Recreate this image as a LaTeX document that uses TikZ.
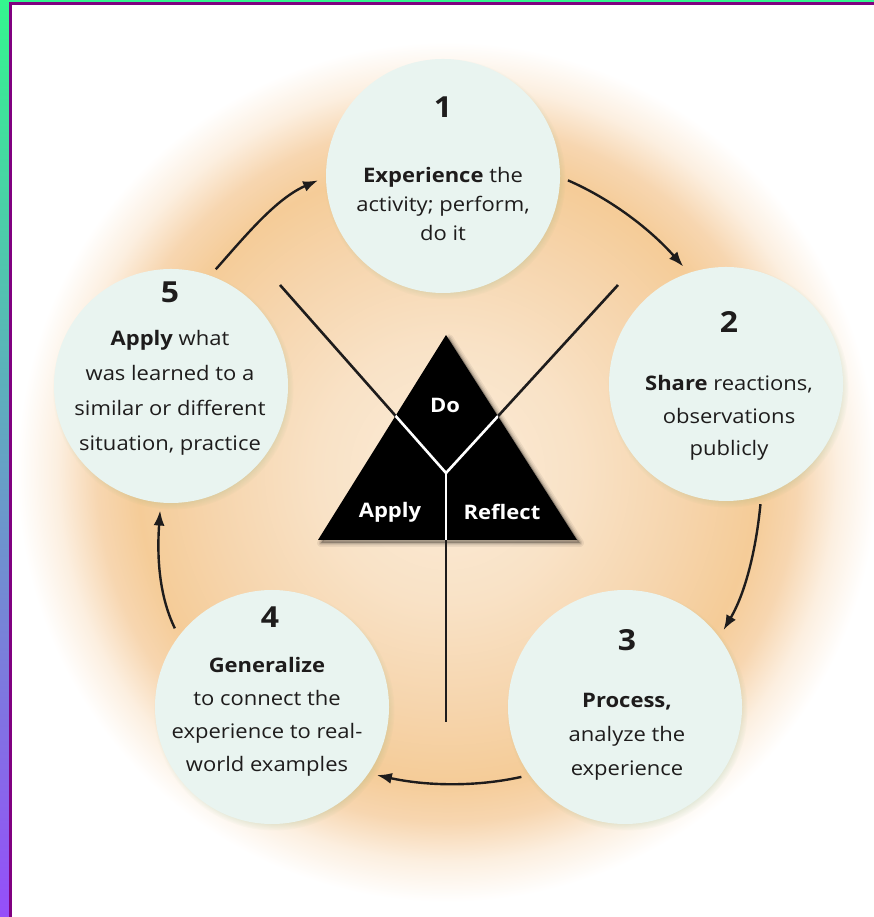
\documentclass[tikz,border=0pt]{standalone}
\usepackage{fontspec}
\setmainfont{Open Sans}[FakeStretch=1.1]
\usetikzlibrary{arrows.meta,calc,shadows}

\definecolor{ink}{RGB}{30,28,28}
\definecolor{stagefill}{RGB}{233,244,240}
\definecolor{frameg}{RGB}{52,246,142}
\definecolor{framep}{RGB}{150,78,250}
\definecolor{framel}{RGB}{128,0,128}
\definecolor{glA}{RGB}{251,236,216}
\definecolor{glB}{RGB}{249,226,198}
\definecolor{glC}{RGB}{246,213,173}
\definecolor{glD}{RGB}{245,204,152}
\definecolor{glE}{RGB}{247,214,176}
\definecolor{glF}{RGB}{252,239,224}
% radial stops: 1bp of the shading is 25pt on the page (square of half-side 625)
\pgfdeclareradialshading{warmglow}{\pgfpoint{0bp}{0bp}}{%
  color(0bp)=(glA); color(5.2bp)=(glB); color(9.4bp)=(glC);
  color(12.4bp)=(glD); color(14.0bp)=(glE); color(15.6bp)=(glF);
  color(17.2bp)=(white); color(50bp)=(white)}

\begin{document}
\begin{tikzpicture}[x=1pt,y=1pt,
  stage/.style={circle, minimum size=234pt, inner sep=0pt, outer sep=8pt,
    fill=stagefill,
    circular drop shadow={shadow xshift=2pt, shadow yshift=-3pt,
      shadow scale=1.03, fill=green!25!gray, opacity=.35}},
  num/.style={font=\fontsize{29}{29}\selectfont\bfseries, text=ink, inner sep=0pt},
  body/.style={align=center, text=ink, inner sep=0pt},
  cyc/.style={line width=2.4pt, draw=ink, -{Latex[length=15pt,width=11pt]}, looseness=0.86},
  spoke/.style={line width=2.6pt, draw=ink},
  tlabel/.style={font=\fontsize{20}{20}\selectfont\bfseries, text=white, inner sep=0pt}
]
\useasboundingbox (0,0) rectangle (873,917);
\fill[white] (-2,-2) rectangle (876,920);

% warm glow behind the cycle
\coordinate (O) at (447,445);
\begin{scope}
  \clip (-2,-2) rectangle (876,920);
  \fill[shading=warmglow] ($(O)+(-625,-625)$) rectangle ($(O)+(625,625)$);
\end{scope}
\fill[white] (-2,-2) rectangle (12,920);

% frame strips
\shade[top color=frameg, bottom color=framep] (-2,-2) rectangle (9,920);
\fill[frameg] (-2,914.5) rectangle (876,920);
\fill[framel] (9,911.5) rectangle (876,914.5);
\fill[framel] (9,-2) rectangle (12,914.5);

% centre triangle with its spokes
\coordinate (J) at (446,444);
\coordinate (Tt) at (446,582);
\coordinate (Tl) at (318,377);
\coordinate (Tr) at (577,377);
\coordinate (Sl) at (280,632);
\coordinate (Sr) at (618,632);
\coordinate (Sb) at (446,195);
\foreach \s/\o in {8/.06,5/.08,2.5/.12}
  \fill[black, opacity=\o, line join=round]
    ([shift={(3,-3)}]Tt) -- ([shift={(3,-3)}]Tl) -- ([shift={(3,-3)}]Tr) -- cycle
    [draw=black, line width=\s pt];
\draw[spoke] (J) -- (Sl);
\draw[spoke] (J) -- (Sr);
\draw[spoke] (J) -- (Sb);
\fill[black] (Tt) -- (Tl) -- (Tr) -- cycle;
\begin{scope}
  \clip (Tt) -- (Tl) -- (Tr) -- cycle;
  \draw[spoke, draw=white] (J) -- (Sl);
  \draw[spoke, draw=white] (J) -- (Sr);
  \draw[spoke, draw=white] (J) -- (Sb);
\end{scope}
\node[tlabel] (tdo) at (445,512) {Do};
\node[tlabel] (tapply) at (390,405) {Apply};
\node[tlabel] (treflect) at (502,405) {Reflect};

% the five stages
\node[stage] (c1) at (443,741) {};
\node[stage] (c2) at (726,533) {};
\node[stage] (c3) at (625,210) {};
\node[stage] (c4) at (272,210) {};
\node[stage] (c5) at (171,531) {};

\node[num] (n1) at (443,810) {1};
\node[body, font=\fontsize{20}{29}\selectfont] (b1) at (443,713)
  {\textbf{Experience} the\\activity; perform,\\do it};
\node[num] (n2) at (729,595) {2};
\node[body, font=\fontsize{20}{32.5}\selectfont] (b2) at (729,499)
  {\textbf{Share} reactions,\\observations\\publicly};
\node[num] (n3) at (627,277) {3};
\node[body, font=\fontsize{20}{34}\selectfont] (b3) at (627,180)
  {\textbf{Process,}\\analyze the\\experience};
\node[num] (n4) at (270,300) {4};
\node[body, font=\fontsize{20}{33}\selectfont] (b4) at (267,200)
  {\textbf{Generalize}\\to connect the\\experience to real-\\world examples};
\node[num] (n5) at (170,625) {5};
\node[body, font=\fontsize{20}{35}\selectfont] (b5) at (170,524)
  {\textbf{Apply} what\\was learned to a\\similar or different\\situation, practice};

% cycle arrows
\draw[cyc] (c5.69.2) to[out=48.5, in=203.5] (c1.182.8);
\draw[cyc] (c1.-2.8) to[out=-23.5, in=131.5] (c2.110.8);
\draw[cyc] (c2.-74.8) to[out=-95.5, in=59.5] (c3.38.8);
\draw[cyc] (c3.-146.8) to[out=-167.5, in=-12.5] (c4.-33.2);
\draw[cyc] (c4.141.2) to[out=116, in=-94] (c5.265);
\end{tikzpicture}
\end{document}
